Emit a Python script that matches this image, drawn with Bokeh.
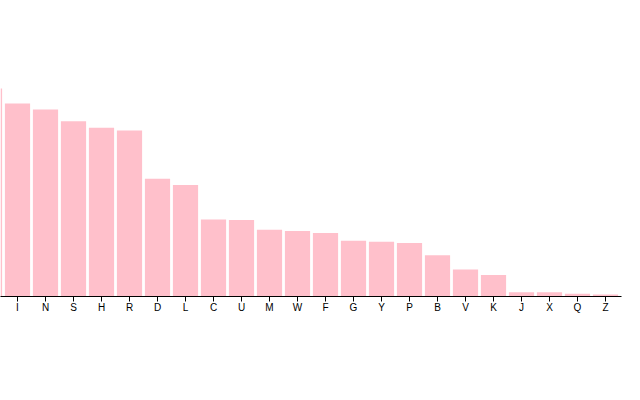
from bokeh.plotting import figure
from bokeh.models import Range1d, FixedTicker, ColumnDataSource, CDSView, IndexFilter
from bokeh.embed import file_html
from bokeh.resources import INLINE

letters = ["E", "T", "A", "O", "I", "N", "S", "H", "R", "D", "L", "C", "U",
           "M", "W", "F", "G", "Y", "P", "B", "V", "K", "J", "X", "Q", "Z"]
frequency = [0.12702, 0.09056, 0.08167, 0.07507, 0.06966, 0.06749, 0.06327,
             0.06094, 0.05987, 0.04253, 0.04025, 0.02782, 0.02758, 0.02406,
             0.02360, 0.02288, 0.02015, 0.01974, 0.01929, 0.01492, 0.00978,
             0.00772, 0.00153, 0.00150, 0.00095, 0.00074]

idx = list(range(len(letters)))
src = ColumnDataSource(dict(x=idx, top=frequency))

BAR_WIDTH = 0.9
x_range = Range1d(4 - 17 / 28, 4 + 604 / 28)

# the reference is cropped on the left: bars lying wholly outside the
# visible window are skipped (they would not show anyway)
visible = [i for i in idx if i + BAR_WIDTH / 2 > x_range.start]
view = CDSView(filter=IndexFilter(visible))

p = figure(width=680, height=400, output_backend="svg", toolbar_location=None,
           x_range=x_range,
           y_range=Range1d(0, 296 / 2771),
           y_axis_location=None,
           min_border_left=40, min_border_top=0, min_border_right=19,
           min_border_bottom=104)
p.styles = {"position": "absolute", "left": "-40px", "top": "0px"}

p.vbar(x="x", top="top", width=BAR_WIDTH, bottom=0, source=src, view=view,
       fill_color="pink", line_color=None)

p.xgrid.visible = False
p.ygrid.visible = False
p.outline_line_color = None
p.background_fill_color = "white"
p.border_fill_color = "white"

ax = p.xaxis[0]
ax.ticker = FixedTicker(ticks=idx)
ax.major_label_overrides = {i: l for i, l in zip(idx, letters)}
ax.axis_line_color = "black"
ax.axis_line_width = 1
ax.major_tick_line_color = "black"
ax.major_tick_out = 5
ax.major_tick_in = 0
ax.minor_tick_line_color = None
ax.major_label_standoff = 0
ax.major_label_text_font = "Liberation Sans"
ax.major_label_text_font_size = "10px"
ax.major_label_text_color = "black"

open("out.html", "w").write(file_html(p, INLINE))
